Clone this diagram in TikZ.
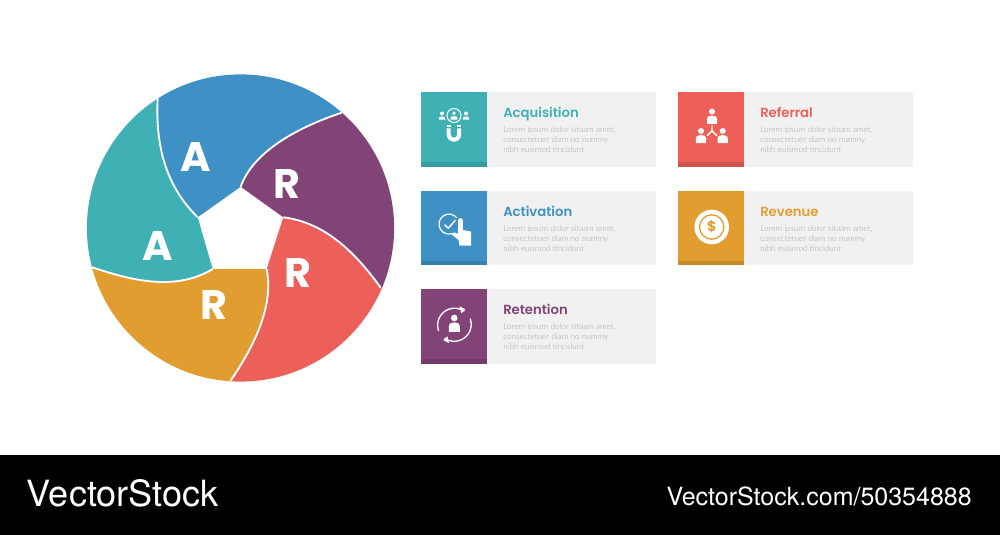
\documentclass[tikz,border=0pt]{standalone}
\usepackage{fontspec}
\setmainfont{Lato}
\newfontfamily\heavyf[BoldFont=Poppins Bold]{Poppins}
\newfontfamily\titlef{Poppins SemiBold}
\newfontfamily\lightf{Lato Light}
\newfontfamily\footf{TeX Gyre Heros}
\definecolor{cteal}{HTML}{3FB1B5}
\definecolor{cblue}{HTML}{3F90C4}
\definecolor{cpurple}{HTML}{824377}
\definecolor{cred}{HTML}{EC6059}
\definecolor{corange}{HTML}{E29D31}
\definecolor{cgreybg}{HTML}{F1F1F1}
\definecolor{cbody}{HTML}{A6A6A6}
\tikzset{
  bigletter/.style={font=\heavyf\bfseries\fontsize{31}{31}\selectfont,text=white,inner sep=0pt,anchor=center},
  cardtitle/.style={font=\titlef\fontsize{9.9}{11}\selectfont,anchor=base west,inner sep=0pt},
  cardbody/.style={font=\lightf\fontsize{6.15}{7.5}\selectfont,text=cbody,anchor=base west,inner sep=0pt},
  iconline/.style={draw=white,line width=1.1pt,fill=none},
  divider/.style={white,line width=1.4pt},
}
\newcommand{\card}[5]{%
  \fill[cgreybg] (#2,#3) rectangle ++(235,74.5);
  \fill[#4] (#2,#3) rectangle ++(66,74.5);
  \fill[#4!88!black] (#2,#3+70) rectangle ++(66,4.5);
  \node[cardtitle,text=#4] (#1t) at (#2+82,#3+25.8) {#5};
  \node[cardbody] (#1a) at (#2+82,#3+40.6) {Lorem ipsum dolor sitaam amet,};
  \node[cardbody] (#1b) at (#2+82,#3+50.6) {consectetuer diam no nummy};
  \node[cardbody] (#1c) at (#2+82,#3+60.6) {nibh euismod tincidunt};
}
\newcommand{\person}[6]{%
  \fill[#6] (#1,#2) circle[radius=#3];
  \fill[#6] (#1-#4,#2+#3+1+#5) -- (#1-#4,#2+#3+1+#5*0.5)
     .. controls (#1-#4,#2+#3+1+#5*0.1) and (#1-#4*0.5,#2+#3+1) .. (#1,#2+#3+1)
     .. controls (#1+#4*0.5,#2+#3+1) and (#1+#4,#2+#3+1+#5*0.1) .. (#1+#4,#2+#3+1+#5*0.5)
     -- (#1+#4,#2+#3+1+#5) -- cycle;
}
\begin{document}
\begin{tikzpicture}[x=0.75pt,y=-0.75pt]
\useasboundingbox (0,0) rectangle (1000,535);
\fill[white] (0,0) rectangle (1000,535);
\coordinate (vt) at (240.7,186.7);
\coordinate (vr) at (283.3,217.3);
\coordinate (vbr) at (266.7,269);
\coordinate (vbl) at (212.7,269);
\coordinate (vl) at (197.7,217.3);
\coordinate (pa) at (157.7,97.7);
\coordinate (pb) at (341.7,112.7);
\coordinate (pc) at (380.7,287.7);
\coordinate (pd) at (230.7,380.5);
\coordinate (pe) at (92.3,267.3);
\begin{scope}
\clip (240.5,228) circle[radius=153.6];
\fill[cblue] (vl) .. controls (168,188) and (155,150) .. (pa) -- (130,55) -- (240,30) -- (380,70) -- (pb)
  .. controls (290,130) and (252,155) .. (vt) -- cycle;
\fill[cpurple] (vt) .. controls (252,155) and (290,130) .. (pb) -- (380,70) -- (450,200) -- (420,310) -- (pc)
  .. controls (350,245) and (320,222) .. (vr) -- cycle;
\fill[cred] (vr) .. controls (320,222) and (350,245) .. (pc) -- (420,310) -- (330,420) -- (210,420) -- (pd)
  .. controls (255,345) and (274,305) .. (vbr) -- cycle;
\fill[corange] (vbr) .. controls (274,305) and (255,345) .. (pd) -- (210,420) -- (100,400) -- (50,280) -- (pe)
  .. controls (130,280) and (175,292) .. (vbl) -- cycle;
\fill[cteal] (vbl) .. controls (175,292) and (130,280) .. (pe) -- (50,280) -- (40,150) -- (130,55) -- (pa)
  .. controls (155,150) and (168,188) .. (vl) -- cycle;
\draw[divider] (vl) .. controls (168,188) and (155,150) .. (pa);
\draw[divider] (vt) .. controls (252,155) and (290,130) .. (pb);
\draw[divider] (vr) .. controls (320,222) and (350,245) .. (pc);
\draw[divider] (vbr) .. controls (274,305) and (255,345) .. (pd);
\draw[divider] (vbl) .. controls (175,292) and (130,280) .. (pe);
\end{scope}
\node[bigletter] (la1) at (195.5,157) {A};
\node[bigletter] (la2) at (157.5,245.5) {A};
\node[bigletter] (lr1) at (287,184) {R};
\node[bigletter] (lr2) at (298,272.5) {R};
\node[bigletter] (lr3) at (214,304.5) {R};
\card{acq}{421}{92}{cteal}{Acquisition}
\card{act}{421}{190.5}{cblue}{Activation}
\card{ret}{421}{289}{cpurple}{Retention}
\card{ref}{678}{92}{cred}{Referral}
\card{rev}{678}{190.5}{corange}{Revenue}
% acquisition icon
\draw[iconline,line width=0.8pt] (454,115.5) circle[radius=7];
\person{454}{113.2}{1.9}{3.4}{3.6}{white}
\person{442}{113.5}{2}{3.1}{3.2}{white}
\person{466}{113.5}{2}{3.1}{3.2}{white}
\fill[white] (446.7,125) rectangle (450.7,127.2);
\fill[white] (457.2,125) rectangle (461.2,127.2);
\fill[white] (446.7,128.5) -- (450.7,128.5) -- (450.7,134.5) arc[start angle=180,end angle=0,radius=3.25] -- (457.2,128.5) -- (461.2,128.5) -- (461.2,134.5) arc[start angle=0,end angle=180,radius=7.25] -- cycle;
% activation icon
\draw[white,line width=0.9pt,line cap=round] (458.8,222) arc[start angle=-12,end angle=-290,radius=10];
\draw[white,line width=1.1pt,line cap=round,line join=round] (444.8,225) -- (448.3,228.2) -- (455.2,220.4);
\fill[cblue] (455.5,218) rectangle (465,232);
\fill[white] (458,220.5) arc[start angle=180,end angle=360,radius=2.4] -- (462.8,230) -- (471,231.5) -- (471,245.5) -- (459.5,245.5) -- (458.5,240) -- (451,234) .. controls (453,232) and (455,232) .. (458,234) -- cycle;
% retention icon
\draw[white,line width=1pt] (438.6,331) arc[start angle=-200,end angle=-55,radius=17];
\draw[white,line width=1pt] (470.2,318.5) arc[start angle=-20,end angle=125,radius=17];
\fill[white] (465.3,309.3) -- (459.5,306.3) -- (461.3,313.3) -- cycle;
\fill[white] (443.3,340.2) -- (449.2,343.2) -- (447.3,336.2) -- cycle;
\person{454.3}{318}{3.3}{5.5}{9.5}{white}
% referral icon
\person{712}{111.5}{3}{5}{8.5}{white}
\person{701}{131}{3}{5.2}{8.2}{white}
\person{722.7}{131}{3}{5.2}{8.2}{white}
\draw[white,line width=1.1pt] (712,125.5) -- (712,131) (707,135.7) -- (712,131) -- (717,135.7);
% revenue icon
\fill[white] (711.7,227) circle[radius=17.3];
\draw[corange,line width=1pt] (711.7,227) circle[radius=12.2];
\node[font=\heavyf\bfseries\fontsize{10.5}{11}\selectfont,text=corange,inner sep=0pt] (dollar) at (711.7,227) {\$};
% footer
\fill[black] (0,455) rectangle (1000,535);
\node[font=\footf\fontsize{27.1}{28}\selectfont,text=white,anchor=base west,inner sep=0pt] (logo) at (26.5,506.7) {VectorStock};
\node[font=\footf\fontsize{18.75}{20}\selectfont,text=white,anchor=base east,inner sep=0pt] (url) at (972,505.7) {VectorStock.com/50354888};
\end{tikzpicture}
\end{document}
